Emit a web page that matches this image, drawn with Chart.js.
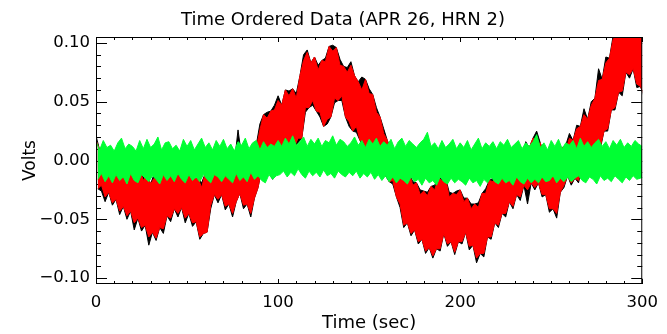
<!DOCTYPE html>
<html>
<head>
<meta charset="utf-8">
<script src="https://cdn.jsdelivr.net/npm/chart.js@4.4.1/dist/chart.umd.min.js"></script>
<style>
  html, body { margin: 0; padding: 0; background: #ffffff; }
  #wrap { width: 667px; height: 334px; }
</style>
</head>
<body>
<div id="wrap"><canvas id="tod" width="667" height="334"></canvas></div>
<script>
// Time ordered data, horn 2, 26 April.
// Each trace is stored as its upper and lower noise envelope in millivolts,
// one pair per 2 s of data (t = 0, 2, 4 ... 300 s).

const BIN = 2; // seconds per envelope sample

// raw channel (black)
const blackUpper = [
   21,  9, 13,  6,  7, -3,  4, -5, -1, -6,
   -4,-10, -8,-14,-12,-20,-11,-17, -5,-12,
   -2, -9, -1, -4, -5,-12, -6,-16,-15,-19,
  -11, -6, -1, -6,  3, -9, -5, -7, -2, 26,
    3, -7,  0, -5, 13, 31, 39, 41, 42, 47,
   55, 47, 60, 59, 61, 57, 72, 90, 94, 83,
   88, 81, 85, 87, 97, 98, 96, 86, 80, 79,
   84, 72, 67, 71, 69, 61, 56, 45, 37, 27,
   17, 10,  5, -2, -6,-12,-11,-18,-19,-25,
  -26,-27,-22,-21,-15,-14,-15,-27,-28,-26,
  -25,-32,-32,-37,-37,-36,-28,-24,-17,-15,
  -11,-12, -7, -8, -3, -7,  4,  2, 16, 11,
   19, 25, 15,  6,  3, -2, -1, -2, 11, 13,
   23, 17, 30, 29, 44, 35, 50, 53, 78, 69,
   88, 87,106,110,115,115,115,115,115,115,
  115
];
const blackLower = [
  -24,-26,-35,-27,-38,-33,-46,-39,-50,-43,
  -59,-49,-60,-55,-72,-61,-68,-57,-62,-47,
  -52,-41,-48,-40,-53,-45,-56,-52,-67,-62,
  -61,-41,-29,-36,-29,-42,-37,-48,-35,-28,
  -41,-37,-48,-32,-23, -7,-14, -9,-16, -2,
    2,  9, 12, 13, 12, 15, 19, 41, 45, 47,
   42, 37, 29, 31, 37, 49, 51, 51, 37, 29,
   25, 24, 17, 10,  7,  2, -3, -6,-11,-13,
  -18,-20,-31,-40,-57,-53,-64,-59,-71,-67,
  -79,-74,-83,-75,-77,-62,-73,-69,-80,-69,
  -71,-61,-76,-72,-87,-79,-82,-65,-67,-53,
  -57,-45,-48,-35,-41,-29,-34,-21,-37,-19,
  -25,-19,-31,-29,-44,-41,-49,-27,-23,-13,
  -21,-15,-19, -5, -9,  3,  0, 13, 10, 25,
   25, 43, 43, 58, 55, 75, 70, 78, 62, 63,
   54
];

// cleaned channel (red)
const redUpper = [
   17,  9, 13,  2,  7, -3,  1, -5, -1, -9,
   -4,-13, -8,-17,-12,-20,-15,-17, -9,-12,
   -5, -9, -1, -8, -5,-12, -9,-16,-15,-23,
  -11,-10, -1, -6, -2, -9, -5,-10, -2, 14,
    3, -7, -3, -5, 10, 26, 39, 36, 42, 43,
   51, 47, 60, 55, 61, 53, 72, 85, 92, 83,
   88, 77, 85, 84, 97, 93, 96, 81, 80, 75,
   81, 72, 67, 60, 69, 57, 56, 41, 37, 23,
   17,  6,  5, -5, -6,-15,-11,-21,-19,-29,
  -26,-30,-22,-25,-15,-17,-15,-31,-28,-29,
  -25,-35,-32,-41,-37,-40,-28,-28,-17,-18,
  -11,-15, -7,-11, -3, -7,  1,  2, 13, 11,
   19, 14, 15,  2,  3, -5, -1, -5, 11,  9,
   19, 17, 27, 29, 39, 35, 47, 53, 68, 69,
   83, 87,103,107,112,112,112,112,112,112,
  108
];
const redLower = [
  -24,-21,-31,-27,-36,-33,-43,-39,-47,-43,
  -53,-49,-57,-55,-65,-61,-66,-57,-58,-47,
  -49,-41,-45,-40,-49,-45,-53,-52,-65,-62,
  -61,-38,-29,-33,-29,-39,-37,-45,-35,-28,
  -38,-37,-45,-32,-23, -7,-11, -9,-13, -2,
    2, 13, 12, 17, 12, 19, 19, 45, 45, 51,
   42, 41, 29, 35, 37, 53, 51, 55, 37, 33,
   25, 29, 17, 15,  7,  8, -3, -2,-11, -9,
  -18,-17,-31,-37,-55,-53,-62,-59,-69,-67,
  -77,-74,-81,-75,-75,-62,-71,-69,-78,-69,
  -69,-61,-73,-72,-83,-79,-79,-65,-65,-53,
  -55,-45,-45,-35,-39,-29,-31,-21,-25,-19,
  -23,-19,-29,-29,-41,-41,-45,-27,-21,-13,
  -19,-15,-17, -5, -7,  3,  2, 13, 12, 25,
   27, 43, 45, 58, 59, 75, 73, 78, 65, 63,
   56
];

// residual (green)
const greenUpper = [
   16,  9, 17, 11, 13,  8, 15, 19, 10, 14,
   12,  8, 17, 10, 18, 11, 14, 20,  9, 15,
   16, 10, 13,  8, 18, 12, 17,  9, 14, 19,
   11, 15,  9, 17, 12, 18, 10, 14,  8, 16,
   13, 19, 10, 15, 17,  9, 16, 11, 14, 12,
   17, 12, 19, 14, 21, 13, 16, 20, 12, 18,
   14, 19, 12, 17, 15, 21, 13, 18, 16, 12,
   15, 20, 13, 17, 11, 18, 14, 19, 12, 16,
   13, 18, 10, 16, 19, 12, 17, 14, 11, 15,
   18, 24, 12, 15, 10, 17, 11, 14, 18, 10,
   15, 11, 17,  9, 14, 19, 10, 15, 12, 16,
   10, 16, 13, 18, 11, 14, 17, 10, 15, 12,
   16, 22, 11, 15,  9, 17, 12, 18, 10, 15,
   13, 17, 10, 19, 12, 16, 11, 15, 18, 12,
   16, 10, 17, 13, 18, 11, 15, 12, 17, 14,
   12
];
const greenLower = [
  -16,-11,-18,-13,-19,-12,-17,-14,-20,-11,
  -17,-19,-12,-15,-18,-13,-16,-20,-12,-17,
  -13,-18,-11,-16,-19,-12,-17,-14,-18,-12,
  -16,-19,-12,-14,-18,-13,-16,-19,-11,-17,
  -14,-18,-10,-16,-13,-17,-19,-12,-16,-13,
  -12, -9,-14,-10,-13, -7,-12,-15, -9,-13,
  -10,-14, -8,-13,-11,-15, -9,-12,-14,-10,
  -13, -9,-15,-11,-14,-10,-16,-12,-17,-13,
  -18,-14,-19,-15,-17,-20,-14,-18,-16,-21,
  -15,-19,-17,-21,-14,-18,-20,-15,-19,-16,
  -18,-21,-15,-19,-17,-22,-16,-19,-14,-18,
  -20,-15,-19,-17,-21,-14,-18,-20,-15,-19,
  -16,-19,-14,-18,-17,-13,-19,-15,-18,-14,
  -18,-15,-13,-17,-19,-14,-16,-20,-13,-17,
  -15,-18,-13,-16,-19,-14,-17,-13,-16,-15,
  -14
];

const xTickValues = [0, 100, 200, 300];
const yTickValues = [-0.10, -0.05, 0.00, 0.05, 0.10];

const FONT = 'DejaVu Sans';

// envelope edge as points; the lower edge is offset by half a bin so the
// two edges do not spike in step with each other
function edge(values, shift) {
  return values.map((mv, i) => ({ x: i * BIN + shift, y: mv / 1000 }));
}

// a noise band = upper edge filled down to the lower edge (next dataset)
function band(upper, lower, colour, order) {
  const common = {
    borderColor: colour,
    backgroundColor: colour,
    borderWidth: 1,
    pointRadius: 0,
    tension: 0,
    clip: 0
  };
  return [
    Object.assign({ data: edge(upper, 0), fill: '+1', order: order }, common),
    Object.assign({ data: edge(lower, BIN / 2), fill: false, order: order + 1 }, common)
  ];
}

// IDL-style box: inward major/minor ticks on all four sides.
const boxAxes = {
  id: 'boxAxes',
  beforeDatasetsDraw(chart) {
    const { ctx, chartArea: a, scales: { x, y } } = chart;
    ctx.save();
    ctx.strokeStyle = '#000';
    ctx.lineWidth = 1;
    ctx.beginPath();
    for (let t = 0; t <= 300; t += 10) {
      const px = Math.round(x.getPixelForValue(t)) + 0.5;
      const len = (t % 100 === 0) ? 5 : 3;
      ctx.moveTo(px, a.bottom); ctx.lineTo(px, a.bottom - len);
      ctx.moveTo(px, a.top);    ctx.lineTo(px, a.top + len);
    }
    for (let k = -10; k <= 10; k++) {
      const v = k / 100;
      const py = Math.round(y.getPixelForValue(v)) + 0.5;
      const len = (k % 5 === 0) ? 11 : 5;
      ctx.moveTo(a.left, py);  ctx.lineTo(a.left + len, py);
      ctx.moveTo(a.right, py); ctx.lineTo(a.right - len, py);
    }
    ctx.stroke();
    ctx.restore();
  },
  afterDatasetsDraw(chart) {
    const { ctx, chartArea: a } = chart;
    ctx.save();
    ctx.strokeStyle = '#000';
    ctx.lineWidth = 1;
    ctx.strokeRect(a.left + 0.5, a.top + 0.5, a.right - a.left - 1, a.bottom - a.top - 1);
    ctx.restore();
  },
  afterDraw(chart) {
    const { ctx } = chart;
    ctx.save();
    ctx.fillStyle = '#000';
    ctx.font = '18px "' + FONT + '"';
    ctx.textAlign = 'center';
    ctx.textBaseline = 'middle';
    ctx.fillText('Time Ordered Data (APR 26, HRN 2)', 343, 20);
    ctx.restore();
  }
};

function volts(v) {
  const s = Math.abs(v).toFixed(2);
  return v < -1e-9 ? '\u2212' + s : s;
}

new Chart(document.getElementById('tod'), {
  type: 'line',
  data: {
    datasets: [
      ...band(greenUpper, greenLower, '#00ff33', 0),
      ...band(redUpper, redLower, '#ff0000', 2),
      ...band(blackUpper, blackLower, '#000000', 4)
    ]
  },
  options: {
    responsive: false,
    animation: false,
    events: [],
    layout: { padding: { top: 37, right: 16, left: 0, bottom: 0 } },
    plugins: { legend: { display: false }, tooltip: { enabled: false }, title: { display: false } },
    scales: {
      x: {
        type: 'linear',
        min: 0,
        max: 300,
        afterBuildTicks: s => { s.ticks = xTickValues.map(v => ({ value: v })); },
        afterFit: s => { s.height = 50; },
        grid: { display: false, drawTicks: false },
        border: { display: false },
        ticks: {
          padding: 9, color: '#000', autoSkip: false, maxRotation: 0,
          font: { family: FONT, size: 16.5 },
          callback: v => String(v)
        },
        title: {
          display: true, text: 'Time (sec)', color: '#000',
          font: { family: FONT, size: 18 }, padding: { top: 0, bottom: 0 }
        }
      },
      y: {
        type: 'linear',
        min: -0.105,
        max: 0.105,
        afterBuildTicks: s => { s.ticks = yTickValues.map(v => ({ value: v })); },
        afterFit: s => { s.width = 96; },
        grid: { display: false, drawTicks: false },
        border: { display: false },
        ticks: {
          padding: 6, color: '#000', autoSkip: false,
          font: { family: FONT, size: 16.5 },
          callback: v => volts(v)
        },
        title: {
          display: true, text: 'Volts', color: '#000',
          font: { family: FONT, size: 17 }, padding: { top: 20, bottom: 0 }
        }
      }
    }
  },
  plugins: [boxAxes]
});
</script>
</body>
</html>
